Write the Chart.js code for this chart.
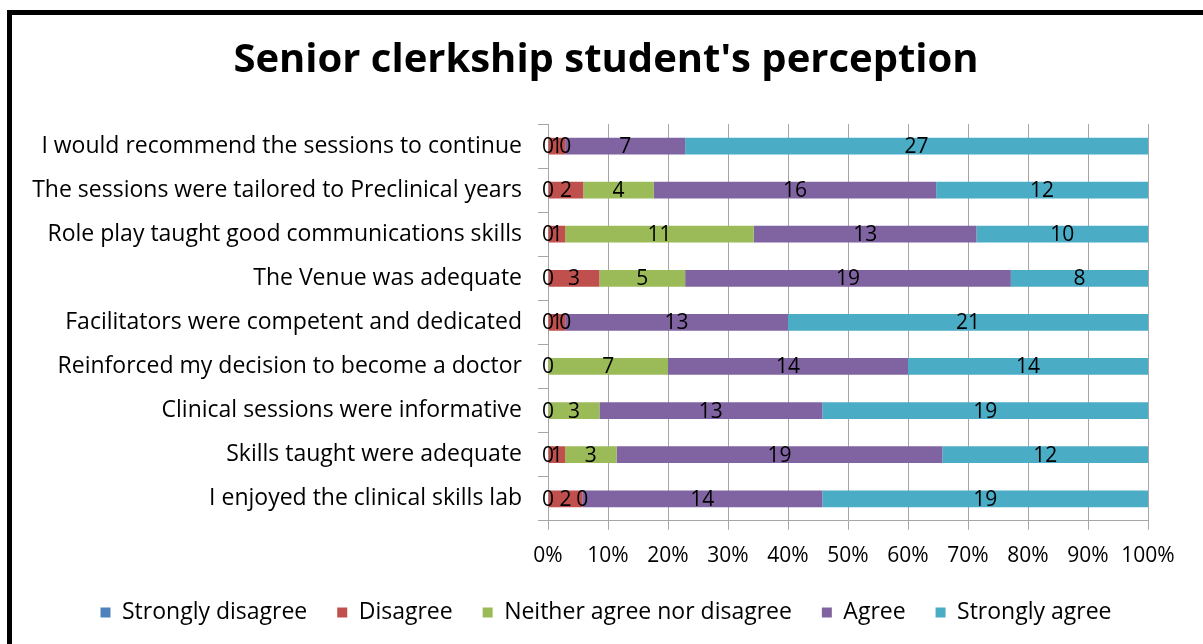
<!DOCTYPE html>
<html>
<head>
<meta charset="utf-8">
<script src="https://cdn.jsdelivr.net/npm/chart.js"></script>
<style>
  html, body { margin: 0; padding: 0; background: #fff; }
  body { width: 1203px; height: 644px; overflow: hidden; position: relative; }
  .frame {
    position: absolute; left: 7px; top: 10px; width: 1300px; height: 700px;
    border-left: 5px solid #000; border-top: 5px solid #000;
  }
  #wrap { position: absolute; left: 0; top: 0; width: 1203px; height: 644px; }
</style>
</head>
<body>
<div class="frame"></div>
<div id="wrap"><canvas id="chart"></canvas></div>
<script>
const statements = [
    'I would recommend the sessions to continue',
    'The sessions were tailored to Preclinical years',
    'Role play taught good communications skills',
    'The Venue was adequate',
    'Facilitators were competent and dedicated',
    'Reinforced my decision to become a doctor',
    'Clinical sessions were informative',
    'Skills taught were adequate',
    'I enjoyed the clinical skills lab'
];

// response counts per statement (null = no label shown in the original)
const stronglyDisagree = [0, 0, 0, 0, 0, 0, 0, 0, 0];
const disagree = [1, 2, 1, 3, 1, null, null, 1, 2];
const neither = [0, 4, 11, 5, 0, 7, 3, 3, 0];
const agree = [7, 16, 13, 19, 13, 14, 13, 19, 14];
const stronglyAgree = [27, 12, 10, 8, 21, 14, 19, 12, 19];

const percentTicks = [0, 10, 20, 30, 40, 50, 60, 70, 80, 90, 100];

const seriesNames = ['Strongly disagree', 'Disagree', 'Neither agree nor disagree', 'Agree', 'Strongly agree'];
const seriesColors = ['#4F81BD', '#C0504D', '#9BBB59', '#8064A2', '#4BACC6'];
const seriesCounts = [stronglyDisagree, disagree, neither, agree, stronglyAgree];

// 100% stacked: each row is scaled to its total
const rowTotals = statements.map((_, i) =>
    seriesCounts.reduce((sum, s) => sum + (s[i] || 0), 0));

const datasets = seriesCounts.map((counts, k) => ({
    label: seriesNames[k],
    counts: counts,
    data: counts.map((v, i) => v === null ? null : v / rowTotals[i] * 100),
    backgroundColor: seriesColors[k],
    borderWidth: 0,
    barPercentage: 0.76,
    categoryPercentage: 0.5
}));

const LEFT_PAD = 64;

// draw the count in the middle of each segment
const segmentLabels = {
    id: 'segmentLabels',
    afterDatasetsDraw(chart) {
        const ctx = chart.ctx;
        ctx.save();
        ctx.font = '21px "Open Sans"';
        ctx.fillStyle = '#000';
        ctx.textAlign = 'center';
        ctx.textBaseline = 'middle';
        chart.data.datasets.forEach((ds, k) => {
            const meta = chart.getDatasetMeta(k);
            meta.data.forEach((bar, i) => {
                const v = ds.counts[i];
                if (v === null) return;
                const p = bar.getCenterPoint();
                ctx.fillText(String(v), p.x, p.y + 1);
            });
        });
        ctx.restore();
    }
};

new Chart(document.getElementById('chart'), {
    type: 'bar',
    data: { labels: statements, datasets: datasets },
    plugins: [segmentLabels],
    options: {
        indexAxis: 'y',
        responsive: true,
        maintainAspectRatio: false,
        animation: false,
        layout: {
            padding: { left: LEFT_PAD, right: 55, top: 0, bottom: 10 }
        },
        plugins: {
            title: {
                display: true,
                text: "Senior clerkship student's perception",
                color: '#000',
                font: { family: '"Open Sans"', size: 40, weight: 'bold' },
                padding: { top: 37, bottom: 39 }
            },
            legend: {
                position: 'bottom',
                labels: {
                    color: '#000',
                    font: { family: '"Open Sans"', size: 23 },
                    boxWidth: 10,
                    boxHeight: 10,
                    padding: 18,
                    // small padding keeps the legend low; extra spaces widen the gaps
                    generateLabels(chart) {
                        const items = Chart.defaults.plugins.legend.labels.generateLabels(chart);
                        items.forEach((item, i) => {
                            if (i < items.length - 1) item.text += '  ';
                        });
                        return items;
                    }
                }
            },
            tooltip: { enabled: false }
        },
        scales: {
            x: {
                stacked: true,
                min: 0,
                max: 100,
                afterBuildTicks(scale) {
                    scale.ticks = percentTicks.map(v => ({ value: v }));
                },
                grid: {
                    color: '#a6a6a6',
                    lineWidth: 1,
                    drawTicks: true,
                    tickLength: 9
                },
                border: { display: true, color: '#a6a6a6' },
                ticks: {
                    color: '#000',
                    font: { family: '"Open Sans"', size: 21 },
                    padding: 14,
                    maxRotation: 0,
                    callback: v => v + '%'
                }
            },
            y: {
                stacked: true,
                afterFit(scale) {
                    scale.width = 548 - LEFT_PAD;
                    // let the long statements run past the left padding
                    scale._computeLabelArea = () => undefined;
                },
                grid: {
                    drawOnChartArea: false,
                    drawTicks: true,
                    tickLength: 10,
                    color: '#a6a6a6'
                },
                border: { display: true, color: '#a6a6a6' },
                ticks: {
                    color: '#000',
                    font: { family: '"Open Sans"', size: 23 },
                    padding: 16
                }
            }
        }
    }
});
</script>
</body>
</html>
